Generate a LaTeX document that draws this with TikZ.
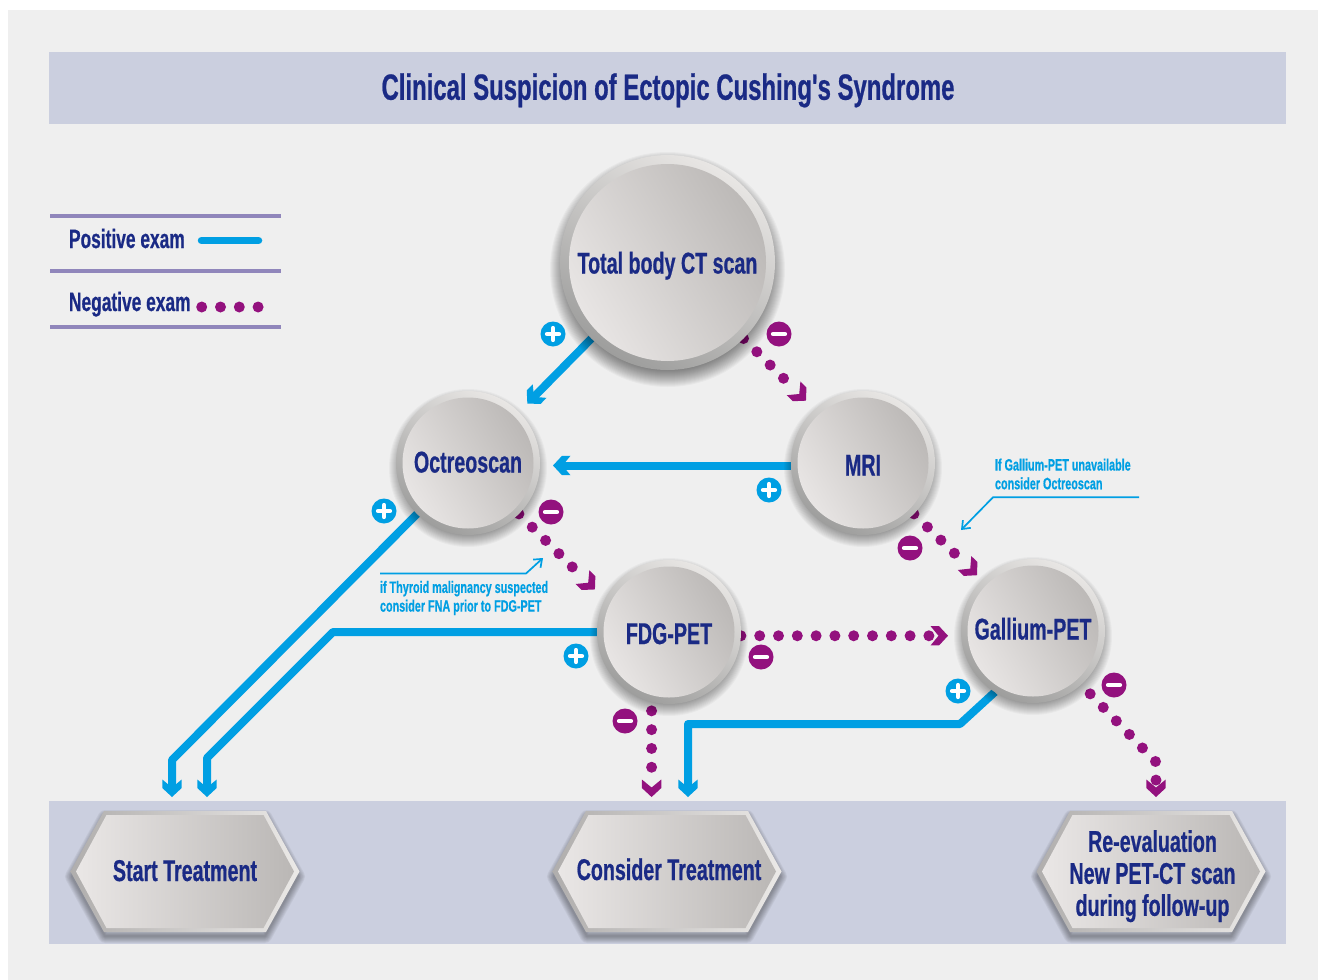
\documentclass[tikz,border=0pt]{standalone}
\usepackage{fontspec}
\usetikzlibrary{arrows.meta,calc}
\newfontfamily\din[FakeStretch=0.655,BoldFeatures={FakeBold=0.6}]{Liberation Sans}
\definecolor{pagegrey}{HTML}{EFEFEF}
\definecolor{bandblue}{HTML}{CBCFDF}
\definecolor{inkblue}{HTML}{1A2A85}
\definecolor{posblue}{HTML}{009FE3}
\definecolor{negpurple}{HTML}{93117E}
\definecolor{rulepurple}{HTML}{9086BB}
\definecolor{ringT}{HTML}{E8E6E4}
\definecolor{ringB}{HTML}{9E9E9D}
\definecolor{faceL}{HTML}{EAE7E6}
\definecolor{faceR}{HTML}{BAB7B5}
\definecolor{hexL}{HTML}{B0AEAD}
\definecolor{hexR}{HTML}{EBE9E7}
\pgfdeclarelayer{back}\pgfdeclarelayer{edges}
\pgfsetlayers{back,edges,main}
\newcommand{\chevshape}{%
    \pgfpathmoveto{\pgfpoint{0pt}{0pt}}
    \pgfpathlineto{\pgfpoint{-9pt}{9.7pt}}
    \pgfpathlineto{\pgfpoint{-17.5pt}{9.7pt}}
    \pgfpathlineto{\pgfpoint{-9.5pt}{0pt}}
    \pgfpathlineto{\pgfpoint{-17.5pt}{-9.7pt}}
    \pgfpathlineto{\pgfpoint{-9pt}{-9.7pt}}
    \pgfpathclose
    \pgfusepathqfill}
\pgfdeclarearrow{
  name=Chev,
  setup code={
    \pgfarrowssettipend{0pt}
    \pgfarrowssetlineend{-8pt}
    \pgfarrowssetbackend{-17.5pt}
    \pgfarrowssetvisualtipend{0pt}
    \pgfarrowssetvisualbackend{-9.5pt}
  },
  drawing code={\chevshape}
}
\pgfdeclarearrow{
  name=ChevDot,
  setup code={
    \pgfarrowssettipend{0pt}
    \pgfarrowssetlineend{-15pt}
    \pgfarrowssetbackend{-17.5pt}
    \pgfarrowssetvisualtipend{0pt}
    \pgfarrowssetvisualbackend{-9.5pt}
  },
  drawing code={\chevshape}
}
\tikzset{
  x=1pt,y=-1pt,
  basenode/.style={inner sep=0pt,outer sep=0pt,text=inkblue,align=center,
    font=\din\bfseries\fontsize{30}{32}\selectfont},
  capline/.style={text height=19pt,text depth=0pt},
  bigball/.style={basenode,capline,circle,minimum size=215pt,top color=ringT,bottom color=ringB,
    shading angle=-30,
    path picture={\shade[left color=faceL,right color=faceR,shading angle=120]
      (path picture bounding box.center) circle[radius=98.5pt];}},
  smallball/.style={basenode,capline,circle,minimum size=144pt,top color=ringT,bottom color=ringB,
    shading angle=-30,
    path picture={\shade[left color=faceL,right color=faceR,shading angle=120]
      (path picture bounding box.center) circle[radius=65.5pt];}},
  hexnode/.style={basenode,minimum width=230pt,minimum height=121pt},
  posline/.style={color=posblue,line width=8pt,line join=round,-{Chev}},
  negline/.style={color=negpurple,line width=11pt,line cap=round,
    dash pattern=on 0pt off 18.8pt,-{ChevDot}},
  noteline/.style={color=posblue,line width=1.7pt,-{Straight Barb[length=7pt,width=11pt]}},
  notetext/.style={inner sep=0pt,outer sep=0pt,text=posblue,align=left,anchor=west,
    font=\din\bfseries\fontsize{16.5}{18.7}\selectfont},
  legendtext/.style={inner sep=0pt,outer sep=0pt,text=inkblue,anchor=west,
    text height=19pt,text depth=0pt,
    font=\din\bfseries\fontsize{26.5}{28}\selectfont},
  titletext/.style={inner sep=0pt,outer sep=0pt,text=inkblue,
    text height=24.5pt,text depth=0pt,
    font=\din\bfseries\fontsize{36.5}{40}\selectfont},
  legendrule/.style={color=rulepurple,line width=4pt},
  plusbadge/.style={circle,fill=posblue,minimum size=25pt,inner sep=0pt,
    path picture={
      \draw[white,line width=4.2pt,line cap=round]
        ([xshift=-6pt]path picture bounding box.center) -- ([xshift=6pt]path picture bounding box.center)
        ([yshift=-6pt]path picture bounding box.center) -- ([yshift=6pt]path picture bounding box.center);}},
  minusbadge/.style={circle,fill=negpurple,minimum size=25pt,inner sep=0pt,
    path picture={
      \draw[white,line width=4.2pt,line cap=round]
        ([xshift=-6pt]path picture bounding box.center) -- ([xshift=6pt]path picture bounding box.center);}},
}
\newcommand{\ballshadow}[5]{% x,y,r,spread,offset
  \foreach \k in {-#5,...,#4}{
    \fill[black,opacity=.03] (#1,#2+#5) circle[radius=#3pt+\k pt];}}
\newcommand{\hexbox}[4]{% name, cx, options, text
  \foreach \k in {2,4,...,14}{
    \draw[black,opacity=.05,line width=\k pt,line join=round]
      (#2-113,871.5+5) -- (#2-80,812+5) -- (#2+80,812+5) -- (#2+113,871.5+5) -- (#2+80,931+5) -- (#2-80,931+5) -- cycle;}
  \shade[left color=hexL,right color=hexR]
    (#2-114.5,871.5) -- (#2-81,811) -- (#2+81,811) -- (#2+114.5,871.5) -- (#2+81,932) -- (#2-81,932) -- cycle;
  \shade[left color=faceL,right color=faceR]
    (#2-109,871.5) -- (#2-78.5,815) -- (#2+78.5,815) -- (#2+109,871.5) -- (#2+78.5,928) -- (#2-78.5,928) -- cycle;
  \node[hexnode,#3] (#1) at (#2,871.5) {#4};}
\begin{document}
\begin{tikzpicture}
\useasboundingbox (0,0) rectangle (1318,980);
\begin{pgfonlayer}{back}
  \fill[white] (0,0) rectangle (1318,980);
  \fill[pagegrey] (8,10) rectangle (1318,980);
  \fill[bandblue] (49,52) rectangle (1286,124);
  \fill[bandblue] (49,801) rectangle (1286,944);
\end{pgfonlayer}

\node[titletext] (title) at (668,87.5) {Clinical Suspicion of Ectopic Cushing's Syndrome};

% legend
\coordinate (r1a) at (50,216); \coordinate (r1b) at (281,216);
\coordinate (r2a) at (50,271); \coordinate (r2b) at (281,271);
\coordinate (r3a) at (50,327); \coordinate (r3b) at (281,327);
\draw[legendrule] (r1a) -- (r1b);
\draw[legendrule] (r2a) -- (r2b);
\draw[legendrule] (r3a) -- (r3b);
\node[legendtext] (legpos) at (69,238.5) {Positive exam};
\node[legendtext] (legneg) at (69,301.5) {Negative exam};
\coordinate (lp1) at (201.5,240.5); \coordinate (lp2) at (258.5,240.5);
\coordinate (ln1) at (201.7,307); \coordinate (ln2) at (258.2,307);
\draw[color=posblue,line width=7.5pt,line cap=round] (lp1) -- (lp2);
\draw[color=negpurple,line width=11pt,line cap=round,dash pattern=on 0pt off 18.8pt] (ln1) -- (ln2);

% round nodes
\ballshadow{667.5}{262.5}{107.5}{10}{7}
\node[bigball] (total) at (667.5,262.5) {\raisebox{-1.5pt}{Total body CT scan}};
\ballshadow{468}{463}{72}{7}{5}
\node[smallball] (octreo) at (468,463) {Octreoscan};
\ballshadow{863}{463}{72}{7}{5}
\node[smallball] (mri) at (863,463) {\raisebox{-3pt}{MRI}};
\ballshadow{669}{632}{72}{7}{5}
\node[smallball] (fdg) at (669,632) {\raisebox{-2.5pt}{FDG-PET}};
\ballshadow{1033}{631}{72}{7}{5}
\node[smallball] (gallium) at (1033,631) {\raisebox{1pt}{Gallium-PET}};

% outcome hexagons
\hexbox{start}{185}{capline}{Start Treatment}
\hexbox{consider}{667}{capline}{\hspace*{4pt}\raisebox{1pt}{Consider Treatment}}
\hexbox{reeval}{1151}{}{\rule{0pt}{31pt}\hspace*{3pt}Re-evaluation\\\hspace*{3pt}New PET-CT scan\\\hspace*{3pt}during follow-up}

% connectors
\coordinate (bendA) at (172,760);
\coordinate (bendB) at (333,632);
\coordinate (bendC) at (207,758);
\coordinate (bendD) at (960,724);
\coordinate (bendE) at (688,724);
\coordinate (bendG) at (1156,762);
\begin{pgfonlayer}{edges}
  \draw[posline,shorten >=12pt] (total.225) -- (octreo.45);
  \draw[posline,shorten >=13pt] (mri.182) -- (mri.182 -| octreo.east);
  \draw[posline,shorten >=14pt] (octreo.225) -- (bendA) -- (bendA |- start.north);
  \draw[posline,shorten >=14pt] (fdg.west) -- (bendB) -- (bendC) -- (bendC |- start.north);
  \draw[posline,shorten >=14pt] (gallium.238) -- (bendD) -- (bendE) -- (bendE |- consider.north);
  \draw[negline,shorten >=12.5pt] (total.-45) -- (mri.132);
  \draw[negline,shorten >=14pt] (octreo.-45) -- (fdg.153);
  \draw[negline,shorten >=7pt] (mri.-45) -- (gallium.135);
  \draw[negline,shorten >=13pt] (fdg.-3) -- (fdg.-3 -| gallium.west);
  \draw[negline,dash phase=9.8pt,shorten >=14pt] (fdg.256) -- (fdg.256 |- consider.north);
  \draw[negline,dash phase=5.8pt,shorten >=14pt] (gallium.-48) -- (bendG) -- (bendG |- reeval.north);
\end{pgfonlayer}

% badges
\node[plusbadge] (p1) at (553,334) {};
\node[plusbadge] (p2) at (769,490) {};
\node[plusbadge] (p3) at (384,511) {};
\node[plusbadge] (p4) at (576,656) {};
\node[plusbadge] (p5) at (958,691) {};
\node[minusbadge] (m1) at (779,334) {};
\node[minusbadge] (m2) at (551,512) {};
\node[minusbadge] (m3) at (910,548) {};
\node[minusbadge] (m4) at (761,657) {};
\node[minusbadge] (m5) at (625,721) {};
\node[minusbadge] (m6) at (1114,685) {};

% notes
\node[notetext] (note1) at (380,598) {if Thyroid malignancy suspected\\consider FNA prior to FDG-PET};
\coordinate (n1a) at (380,573.5); \coordinate (n1b) at (526,573.5); \coordinate (n1c) at (543,558);
\draw[noteline] (n1a) -- (n1b) -- (n1c);
\node[notetext] (note2) at (995,474) {If Gallium-PET unavailable\\consider Octreoscan};
\coordinate (n2a) at (1139,497.3); \coordinate (n2b) at (993,497.3); \coordinate (n2c) at (961,530);
\draw[noteline] (n2a) -- (n2b) -- (n2c);
\end{tikzpicture}
\end{document}
